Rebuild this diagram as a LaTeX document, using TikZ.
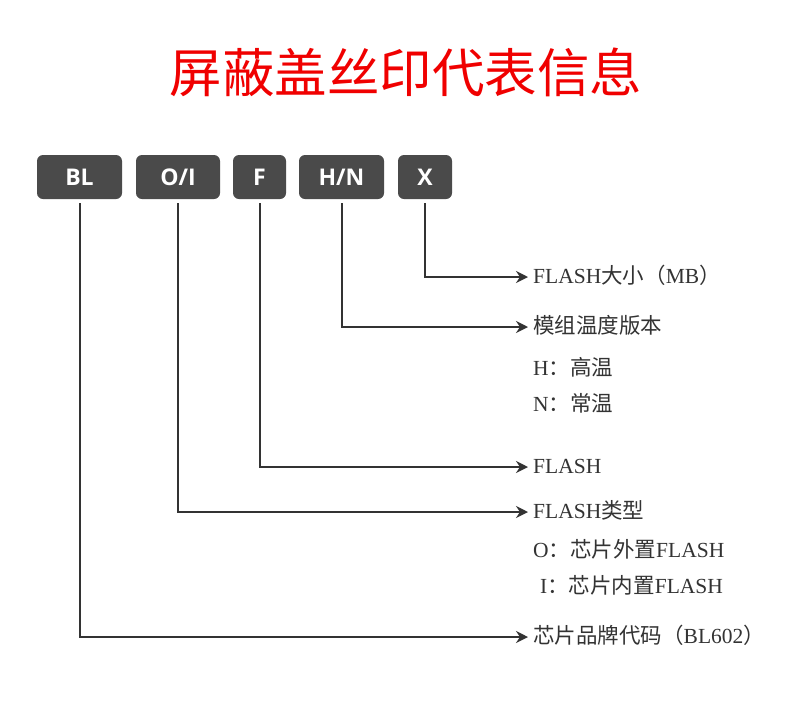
\documentclass[tikz,border=0pt]{standalone}
\usepackage{fontspec}
\setmainfont{Liberation Serif}
\newfontfamily\cjk{Noto Sans CJK SC}
\newfontfamily\boxfont{Open Sans}
\usetikzlibrary{arrows.meta,positioning}
\definecolor{chipgray}{RGB}{74,74,74}
\definecolor{txtgray}{RGB}{51,51,51}
\definecolor{titlered}{RGB}{240,0,0}
\tikzset{
    codebox/.style={rectangle, fill=chipgray, rounded corners=6pt,
                    minimum height=44pt, minimum width=#1, text=white,
                    text height=16pt, text depth=0pt,
                    font=\boxfont\bfseries\fontsize{23}{23}\selectfont},
    desc/.style={anchor=west, inner xsep=5pt, inner ysep=0pt, text=txtgray,
                 text height=15pt, text depth=2pt,
                 font=\fontsize{21.5}{21.5}\selectfont},
    arr/.style={-{Stealth[length=12pt,width=12pt,inset=4pt]}, line width=2pt,
                draw=txtgray, shorten <=4pt},
}

\begin{document}
\begin{tikzpicture}[x=1pt,y=-1pt]
    \useasboundingbox[fill=white] (0,0) rectangle (787,710);
    \node[text=titlered, font=\cjk\fontsize{52.5}{52.5}\selectfont] (ttl) at (406,72) {屏蔽盖丝印代表信息};

    % code boxes
    \node[codebox=85pt] (bl) at (79.5,177)  {BL};
    \node[codebox=84pt] (oi) at (178,177)   {O/I};
    \node[codebox=53pt] (fl) at (259.5,177) {F};
    \node[codebox=85pt] (hn) at (341.5,177) {H/N};
    \node[codebox=54pt] (sz) at (425,177)   {X};

    % descriptions
    \node[desc] (size)   at (528,277) {FLASH{\cjk 大小（}MB{\cjk ）}};
    \node[desc] (temp)   at (528,327) {{\cjk 模组温度版本}};
    \node[desc] (tempH)  at (528,369) {H{\cjk ：高温}};
    \node[desc] (tempN)  at (528,405) {N{\cjk ：常温}};
    \node[desc] (flash)  at (528,467) {FLASH};
    \node[desc] (ftype)  at (528,512) {FLASH{\cjk 类型}};
    \node[desc] (ftypeO) at (528,551) {O{\cjk ：芯片外置}FLASH};
    \node[desc] (ftypeI) at (535,587) {I{\cjk ：芯片内置}FLASH};
    \node[desc] (brand)  at (528,637) {{\cjk 芯片品牌代码（}BL602{\cjk ）}};

    \draw[arr] (sz.south) |- (size.west);
    \draw[arr] (hn.south) |- (temp.west);
    \draw[arr] (fl.south) |- (flash.west);
    \draw[arr] (oi.south) |- (ftype.west);
    \draw[arr] (bl.south) |- (brand.west);
\end{tikzpicture}
\end{document}
